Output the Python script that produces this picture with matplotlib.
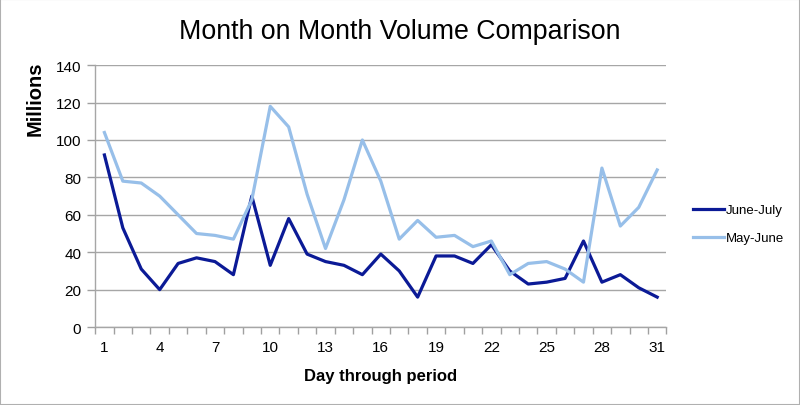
import matplotlib
matplotlib.use("Agg")
import matplotlib.pyplot as plt
from matplotlib.patches import Rectangle
from matplotlib.ticker import MultipleLocator

plt.rcParams['font.family'] = ['Liberation Sans', 'DejaVu Sans']

days = list(range(1, 32))
june_july = [92, 53, 31, 20, 34, 37, 35, 28, 70, 33, 58, 39, 35, 33, 28, 39,
             30, 16, 38, 38, 34, 44, 30, 23, 24, 26, 46, 24, 28, 21, 16]
may_june = [104, 78, 77, 70, 60, 50, 49, 47, 68, 118, 107, 71, 42, 68, 100, 78,
            47, 57, 48, 49, 43, 46, 28, 34, 35, 31, 24, 85, 54, 64, 84]
xtick_days = [1, 4, 7, 10, 13, 16, 19, 22, 25, 28, 31]

fig = plt.figure(figsize=(8, 4.06), dpi=100)
ax = fig.add_axes([0.119, 0.192, 0.714, 0.645])

ax.plot(days, june_july, color='#0b1a96', lw=2.3, label='June-July')
ax.plot(days, may_june, color='#97bfe9', lw=2.3, label='May-June')

ax.set_xlim(0.5, 31.5)
ax.set_ylim(0, 140)
ax.yaxis.set_major_locator(MultipleLocator(20))
ax.set_xticks(xtick_days)
ax.set_xticks([d + 0.5 for d in range(0, 32)], minor=True)
ax.tick_params(axis='x', which='major', length=0, pad=9, labelsize=11)
ax.tick_params(axis='x', which='minor', length=5, color='#a0a0a0', width=1)
ax.tick_params(axis='y', length=6, color='#a0a0a0', width=1, labelsize=11, pad=4)

ax.grid(axis='y', color='#a6a6a6', lw=1)
ax.set_axisbelow(True)
for s in ['top', 'right']:
    ax.spines[s].set_visible(False)
for s in ['left', 'bottom']:
    ax.spines[s].set_color('#a6a6a6')
    ax.spines[s].set_linewidth(1)

# y label sits near the top of the axis, like the original
fig.text(35 / 800, 1 - 99 / 406, 'Millions', rotation=90, ha='center', va='center',
         fontsize=14.5, fontweight='bold')
fig.text(381 / 800, 1 - 377 / 406, 'Day through period', ha='center', va='center',
         fontsize=12, fontweight='bold')

fig.text(0.5, 1 - 32 / 406, 'Month on Month Volume Comparison', ha='center', va='center',
         fontsize=19.3)

fig.legend(loc='center left', bbox_to_anchor=(0.851, 0.445), frameon=False,
           fontsize=9.5, handlelength=2.4, handletextpad=0.1, labelspacing=1.2)

fig.patches.append(Rectangle((0, 0), 1, 1, transform=fig.transFigure, fill=False,
                             edgecolor='#b0b0b0', lw=1.5))

fig.savefig('out.png', dpi=100)
